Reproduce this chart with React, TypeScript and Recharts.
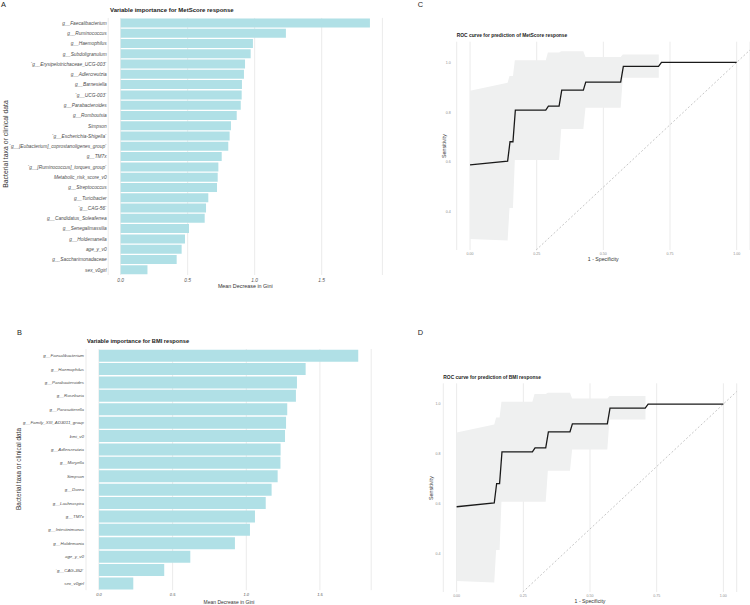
import React from 'react';
import { BarChart, Bar, XAxis, YAxis, CartesianGrid, ComposedChart, Area, Line, ReferenceLine } from 'recharts';

// Panel A - variable importance, MetScore model
const metTaxa = [
  'g__Faecalibacterium', 'g__Ruminococcus', 'g__Haemophilus', 'g__Subdoligranulum',
  '`g__Erysipelotrichaceae_UCG-003`', 'g__Adlercreutzia', 'g__Barnesiella', '`g__UCG-003`',
  'g__Parabacteroides', 'g__Romboutsia', 'Simpson', '`g__Escherichia-Shigella`',
  '`g__[Eubacterium]_coprostanoligenes_group`', 'g__TM7x', '`g__[Ruminococcus]_torques_group`',
  'Metabolic_risk_score_v0', 'g__Streptococcus', 'g__Turicibacter', '`g__CAG-56`',
  'g__Candidatus_Soleaferrea', 'g__Senegalimassilia', 'g__Holdemanella', 'age_y_v0',
  'g__Saccharimonadaceae', 'sex_v0girl',
];
const metGini = [
  1.86, 1.233, 0.987, 0.97, 0.928, 0.92, 0.905, 0.903, 0.896, 0.866, 0.823, 0.813,
  0.803, 0.754, 0.729, 0.724, 0.719, 0.654, 0.637, 0.627, 0.51, 0.48, 0.455, 0.418, 0.2,
];

// Panel B - variable importance, BMI model
const bmiTaxa = [
  'g__Faecalibacterium', 'g__Haemophilus', 'g__Parabacteroides', 'g__Roseburia',
  'g__Parasutterella', 'g__Family_XIII_AD3011_group', 'bmi_v0', 'g__Adlercreutzia',
  'g__Moryella', 'Simpson', 'g__Dorea', 'g__Lachnospira', 'g__TM7x', 'g__Intestinimonas',
  'g__Holdemania', 'age_y_v0', '`g__CAG-352`', 'sex_v0girl',
];
const bmiGini = [
  1.76, 1.403, 1.344, 1.337, 1.278, 1.27, 1.263, 1.233, 1.232, 1.213, 1.172, 1.132,
  1.059, 1.025, 0.923, 0.62, 0.443, 0.233,
];
const giniTicks = [0, 0.5, 1, 1.5];

// Panels C & D - ROC curve with confidence band
const rocFpr = [0, 0.141, 0.15, 0.161, 0.17, 0.284, 0.294, 0.334, 0.344, 0.425, 0.434, 0.565, 0.575, 0.707, 0.718, 1];
const rocSens = [0.589, 0.604, 0.682, 0.682, 0.809, 0.809, 0.825, 0.825, 0.889, 0.889, 0.921, 0.921, 0.984, 0.984, 1, 1];
const ciFpr = [0, 0.141, 0.148, 0.161, 0.168, 0.284, 0.292, 0.334, 0.342, 0.425, 0.433, 0.565, 0.573, 0.708];
const ciLow = [0.292, 0.286, 0.416, 0.416, 0.609, 0.609, 0.609, 0.609, 0.733, 0.733, 0.818, 0.818, 0.938, 0.938];
const ciHigh = [0.886, 0.918, 0.946, 0.946, 1.009, 1.009, 1.04, 1.04, 1.045, 1.045, 1.022, 1.022, 1.032, 1.032];
const specTicks = [0, 0.25, 0.5, 0.75, 1];
const sensTicks = [0.4, 0.6, 0.8, 1];

const metData = metTaxa.map((taxon, i) => ({ taxon, gini: metGini[i] }));
const bmiData = bmiTaxa.map((taxon, i) => ({ taxon, gini: bmiGini[i] }));
const rocData = rocFpr.map((fpr, i) => ({ fpr, sens: rocSens[i] }));
const ciData = ciFpr.map((fpr, i) => ({ fpr, band: [ciLow[i], ciHigh[i]] }));

const FONT = '"Liberation Sans", Arial, Helvetica, sans-serif';
const BAR_FILL = '#b0e0e6';
const GRID = '#ebebeb';

type TxtProps = {
  x: number; y: number; size: number; children: React.ReactNode;
  bold?: boolean; italic?: boolean; center?: boolean; rotate?: boolean; color?: string;
};

// absolutely placed text, (x, y) = left/centre-x and centre-y
const Txt = ({ x, y, size, children, bold, italic, center, rotate, color = '#222' }: TxtProps) => {
  let transform = 'translate(0,-50%)';
  if (center) transform = 'translate(-50%,-50%)';
  if (rotate) transform = 'translate(-50%,-50%) rotate(-90deg)';
  return (
    <div
      style={{
        position: 'absolute', left: x, top: y, transform, whiteSpace: 'nowrap',
        fontSize: size, lineHeight: 1, fontWeight: bold ? 700 : 400,
        fontStyle: italic ? 'italic' : 'normal', color,
      }}
    >
      {children}
    </div>
  );
};

const fmt1 = (v: number) => v.toFixed(1);
const fmt2 = (v: number) => v.toFixed(2);

function RocChart({ width, height, margin, yWidth, xHeight, xGap, yGap }: any) {
  return (
    <ComposedChart width={width} height={height} margin={margin}>
      <CartesianGrid horizontal={false} stroke={GRID} />
      <XAxis
        type="number" dataKey="fpr" domain={[-0.05, 1.05]} ticks={specTicks} tickFormatter={fmt2}
        allowDataOverflow axisLine={false} tickLine={false} tickSize={0} tickMargin={xGap} height={xHeight}
        tick={{ fontSize: 3.6, fill: '#8c8c8c' }}
      />
      <YAxis
        type="number" domain={[0.248, 1.083]} ticks={sensTicks} tickFormatter={fmt1}
        allowDataOverflow axisLine={false} tickLine={false} tickSize={0} tickMargin={yGap} width={yWidth}
        tick={{ fontSize: 3.6, fill: '#8c8c8c' }}
      />
      <Area
        data={ciData} dataKey="band" type="linear" stroke="none" fill="#eff0f0" fillOpacity={1}
        isAnimationActive={false} activeDot={false}
      />
      <ReferenceLine
        segment={[{ x: 0.248, y: 0.248 }, { x: 1.05, y: 1.05 }]} ifOverflow="visible"
        stroke="#a0a0a0" strokeWidth={0.6} strokeDasharray="2 2"
      />
      <Line
        data={rocData} dataKey="sens" type="linear" stroke="#1a1a1a" strokeWidth={1.3}
        dot={false} activeDot={false} isAnimationActive={false}
      />
    </ComposedChart>
  );
}

export default function App() {
  return (
    <div style={{ position: 'absolute', left: 0, top: 0, width: 750, height: 605, background: '#fff', fontFamily: FONT, overflow: 'hidden' }}>
      {/* A */}
      <div style={{ position: 'absolute', left: 0, top: 0 }}>
        <BarChart
          width={390} height={300} layout="vertical" data={metData} barCategoryGap="5%"
          margin={{ top: 17.9, right: 7.6, bottom: 0, left: 0 }}
        >
          <CartesianGrid horizontal={false} stroke={GRID} />
          <XAxis
            type="number" domain={[-0.093, 1.953]} ticks={giniTicks} tickFormatter={fmt1} allowDataOverflow
            axisLine={false} tickLine={false} tickSize={0} tickMargin={4} height={25}
            tick={{ fontSize: 4.8, fontStyle: 'italic', fill: '#555' }}
          />
          <YAxis
            type="category" dataKey="taxon" width={108.2} interval={0}
            axisLine={false} tickLine={false} tickSize={0} tickMargin={1.5}
            tick={{ fontSize: 4.8, fontStyle: 'italic', fill: '#4d4d4d' }}
          />
          <Bar dataKey="gini" fill={BAR_FILL} isAnimationActive={false} />
        </BarChart>
      </div>
      <Txt x={3.5} y={4.5} size={7.4} center>A</Txt>
      <Txt x={110} y={10} size={6} bold>Variable importance for MetScore response</Txt>
      <Txt x={245.3} y={287} size={5.4} center color="#333">Mean Decrease in Gini</Txt>
      <Txt x={5.5} y={144} size={6.9} rotate color="#333">Bacterial taxa or clinical data</Txt>

      {/* B */}
      <div style={{ position: 'absolute', left: 0, top: 300 }}>
        <BarChart
          width={390} height={305} layout="vertical" data={bmiData} barCategoryGap="5%"
          margin={{ top: 49, right: 18.8, bottom: 0, left: 0 }}
        >
          <CartesianGrid horizontal={false} stroke={GRID} />
          <XAxis
            type="number" domain={[-0.088, 1.848]} ticks={giniTicks} tickFormatter={fmt1} allowDataOverflow
            axisLine={false} tickLine={false} tickSize={0} tickMargin={3.4} height={14.8}
            tick={{ fontSize: 4, fontStyle: 'italic', fill: '#555' }}
          />
          <YAxis
            type="category" dataKey="taxon" width={86} interval={0}
            axisLine={false} tickLine={false} tickSize={0} tickMargin={2}
            tick={{ fontSize: 4.4, fontStyle: 'italic', fill: '#4d4d4d' }}
          />
          <Bar dataKey="gini" fill={BAR_FILL} isAnimationActive={false} />
        </BarChart>
      </div>
      <Txt x={19.5} y={333.3} size={7.4} center>B</Txt>
      <Txt x={87} y={341.7} size={5.7} bold>Variable importance for BMI response</Txt>
      <Txt x={229} y={601.7} size={5} center color="#333">Mean Decrease in Gini</Txt>
      <Txt x={19} y={469} size={6.45} rotate color="#333">Bacterial taxa or clinical data</Txt>

      {/* C */}
      <div style={{ position: 'absolute', left: 380, top: 0 }}>
        <RocChart
          width={370} height={300} margin={{ top: 41.7, right: 0, bottom: 0, left: 0 }}
          yWidth={76.7} xHeight={50} xGap={2.7} yGap={6}
        />
      </div>
      <Txt x={420.5} y={4.5} size={7.4} center>C</Txt>
      <Txt x={456.7} y={36} size={4.9} bold>ROC curve for prediction of MetScore response</Txt>
      <Txt x={445.3} y={145.5} size={5.3} rotate color="#333">Sensitivity</Txt>
      <Txt x={603.3} y={260} size={5.2} center color="#333">1 - Specificity</Txt>

      {/* D */}
      <div style={{ position: 'absolute', left: 380, top: 300 }}>
        <RocChart
          width={370} height={305} margin={{ top: 83.3, right: 13.3, bottom: 0, left: 0 }}
          yWidth={63.3} xHeight={13} xGap={2.4} yGap={2.7}
        />
      </div>
      <Txt x={420.5} y={333.3} size={7.4} center>D</Txt>
      <Txt x={443.3} y={377.7} size={4.9} bold>ROC curve for prediction of BMI response</Txt>
      <Txt x={431.7} y={487.7} size={5.3} rotate color="#333">Sensitivity</Txt>
      <Txt x={590} y={601.7} size={5.2} center color="#333">1 - Specificity</Txt>
    </div>
  );
}
